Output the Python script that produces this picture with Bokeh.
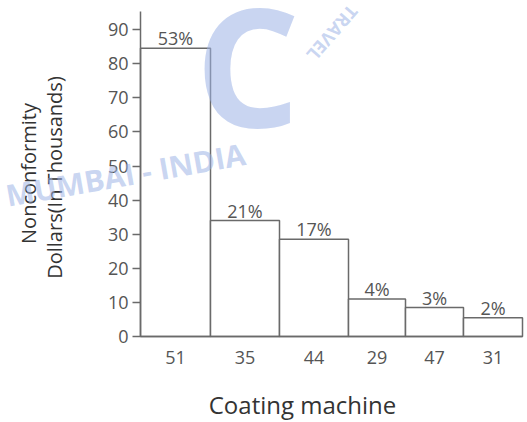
import math
from bokeh.plotting import figure
from bokeh.models import Range1d, FixedTicker, Label, ColumnDataSource
from bokeh.core.properties import value
from bokeh.embed import file_html
from bokeh.resources import INLINE

# Pareto data: nonconformity cost per coating machine (thousands of dollars)
machines = ["51", "35", "44", "29", "47", "31"]
cost_thousands = [84.5, 34, 28.5, 11, 8.5, 5.5]
share_labels = ["53%", "21%", "17%", "4%", "3%", "2%"]
y_ticks = [0, 10, 20, 30, 40, 50, 60, 70, 80, 90]
y_axis_top = 95.3

# layout: bar widths along the horizontal axis (screen-like units)
bar_widths = [70, 69, 69, 57, 58, 59]

W, H = 527, 422
ORIGIN_X, ORIGIN_Y = 140, 336      # canvas position of the (0, 0) corner
PX_PER_UNIT = 3.41                 # vertical pixels per thousand dollars

FONT = "Open Sans"
AXIS_GREY = "#6a6a6a"
TICK_TEXT = "#555555"
TITLE_TEXT = "#333333"
MARK = "#9db3e6"

lefts, rights, centers = [], [], []
edge = 0
for w in bar_widths:
    lefts.append(edge)
    rights.append(edge + w)
    centers.append(edge + w / 2)
    edge += w

src = ColumnDataSource(dict(left=lefts, right=rights, center=centers,
                            top=cost_thousands, label=share_labels))

# the plotting frame fills the whole canvas; axes are pinned at the origin
p = figure(width=W, height=H, output_backend="svg", toolbar_location=None,
           x_range=Range1d(-ORIGIN_X, W - ORIGIN_X),
           y_range=Range1d(-(H - ORIGIN_Y) / PX_PER_UNIT, ORIGIN_Y / PX_PER_UNIT),
           min_border_left=0, min_border_right=0, min_border_top=0,
           min_border_bottom=0)
p.outline_line_color = None
p.xgrid.visible = False
p.ygrid.visible = False
p.background_fill_color = "white"
p.border_fill_color = "white"

p.quad(left="left", right="right", bottom=0, top="top", source=src,
       fill_color="white", line_color=AXIS_GREY, line_width=1.5)

p.text(x="center", y="top", text="label", source=src,
       text_font=value(FONT), text_font_size="18px", text_color=TICK_TEXT,
       text_align="center", text_baseline="bottom", y_offset=2)

# vertical axis
ya = p.yaxis[0]
ya.fixed_location = 0
ya.bounds = (0, y_axis_top)
ya.ticker = FixedTicker(ticks=y_ticks)
ya.axis_line_color = AXIS_GREY
ya.axis_line_width = 1.5
ya.major_tick_line_color = AXIS_GREY
ya.major_tick_line_width = 1.5
ya.major_tick_out = 8
ya.major_tick_in = 0
ya.minor_tick_line_color = None
ya.major_label_text_font = FONT
ya.major_label_text_font_size = "18px"
ya.major_label_text_color = TICK_TEXT
ya.major_label_standoff = 4

# horizontal axis with machine numbers under each bar
xa = p.xaxis[0]
xa.fixed_location = 0
xa.bounds = (0, edge)
xa.ticker = FixedTicker(ticks=centers)
xa.major_label_overrides = {c: m for c, m in zip(centers, machines)}
xa.axis_line_color = AXIS_GREY
xa.axis_line_width = 1.5
xa.major_tick_line_color = None
xa.minor_tick_line_color = None
xa.major_label_text_font = FONT
xa.major_label_text_font_size = "18px"
xa.major_label_text_color = TICK_TEXT
xa.major_label_standoff = 8


def canvas_label(x, y, text, **kw):
    p.add_layout(Label(x=x, y=y, x_units="canvas", y_units="canvas",
                       text=text, text_font=FONT, **kw))


# axis titles
canvas_label(302, 404, "Coating machine", text_font_size="24px",
             text_color=TITLE_TEXT, text_align="center", text_baseline="middle")
canvas_label(28, 173, "Nonconformity", angle=math.pi / 2, text_font_size="20px",
             text_color=TITLE_TEXT, text_align="center", text_baseline="middle")
canvas_label(54, 177, "Dollars(In Thousands)", angle=math.pi / 2, text_font_size="20px",
             text_color=TITLE_TEXT, text_align="center", text_baseline="middle")

# light logo lettering laid over the chart
logo = dict(text_font_style="bold", text_color=MARK, text_alpha=0.55)
canvas_label(247, 62, "C", text_font_size="165px", text_align="center",
             text_baseline="middle", **logo)
canvas_label(125, 174, "MUMBAI - INDIA", angle=math.radians(10),
             text_font_size="30px", text_align="center", text_baseline="middle", **logo)
canvas_label(310, 58, "TRAVEL", angle=math.radians(-131), text_font_size="18px",
             text_align="right", text_baseline="alphabetic", **logo)

open("out.html", "w").write(file_html(p, INLINE))
